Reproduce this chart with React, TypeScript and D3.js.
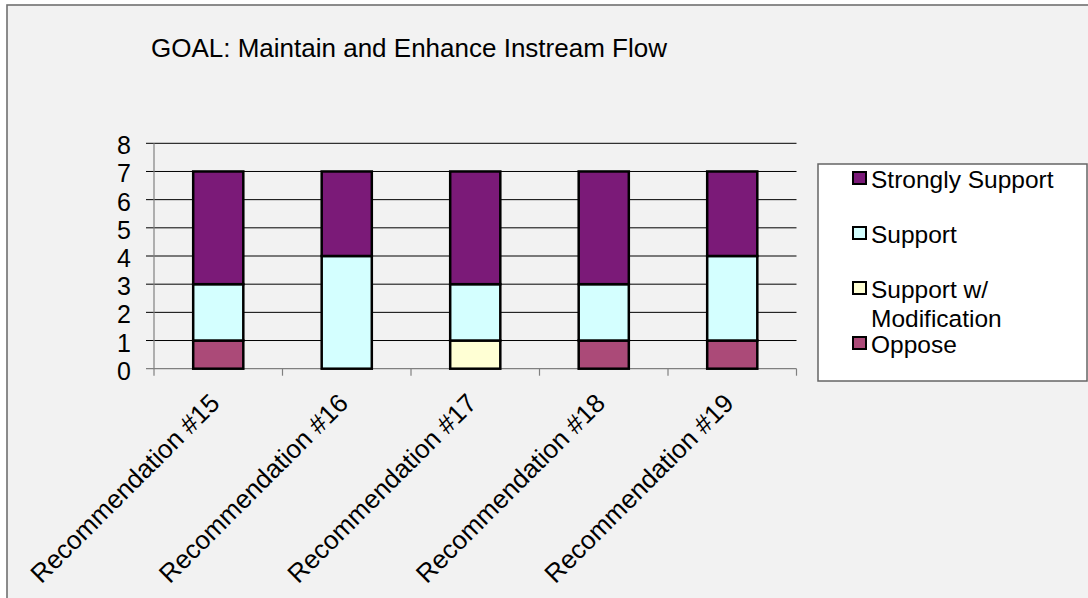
import React from "react";
import * as d3 from "d3";

// chart values
const categories = [
  "Recommendation #15",
  "Recommendation #16",
  "Recommendation #17",
  "Recommendation #18",
  "Recommendation #19",
];
const oppose = [1, 0, 0, 1, 1];
const supportMod = [0, 0, 1, 0, 0];
const support = [2, 4, 2, 2, 3];
const stronglySupport = [4, 3, 4, 4, 3];
const yTicks = [0, 1, 2, 3, 4, 5, 6, 7, 8];

const seriesKeys = ["oppose", "supportMod", "support", "stronglySupport"];
const seriesColors: Record<string, string> = {
  oppose: "#AB4A78",
  supportMod: "#FFFFD4",
  support: "#D4FFFF",
  stronglySupport: "#7B1A78",
};
// legend order (top to bottom), wrapped labels as lines
const legendKeys = ["stronglySupport", "support", "supportMod", "oppose"];
const legendLabels: Record<string, string[]> = {
  stronglySupport: ["Strongly Support"],
  support: ["Support"],
  supportMod: ["Support w/", "Modification"],
  oppose: ["Oppose"],
};

const W = 1088;
const H = 598;
const plot = { left: 154, right: 796.5, top: 143.3, bottom: 368.7 };
const font = "'Liberation Sans', Arial, sans-serif";

const App = () => {
  const rows = categories.map((c, i) => ({
    cat: c,
    oppose: oppose[i],
    supportMod: supportMod[i],
    support: support[i],
    stronglySupport: stronglySupport[i],
  }));

  const x = d3
    .scaleBand<string>()
    .domain(categories)
    .range([plot.left, plot.right])
    .paddingInner(0.61)
    .paddingOuter(0.305);
  const y = d3.scaleLinear().domain([0, 8]).range([plot.bottom, plot.top]);

  const stacked = d3.stack<any>().keys(seriesKeys)(rows);
  const step = x.step();

  // legend rows spaced evenly
  const legendY = d3
    .scalePoint<string>()
    .domain(legendKeys)
    .range([171, 336]);

  return (
    <div style={{ position: "absolute", left: 0, top: 0 }}>
      <svg width={W} height={H} style={{ display: "block", fontFamily: font }}>
        <rect x={0} y={0} width={W} height={H} fill="#ffffff" />
        <rect
          x={7}
          y={5}
          width={W + 20}
          height={H + 20}
          fill="#f2f2f2"
          stroke="#707070"
          strokeWidth={1.6}
        />

        <text x={151} y={57} fontSize={26} fill="#000">
          GOAL: Maintain and Enhance Instream Flow
        </text>

        {/* gridlines */}
        {yTicks
          .filter((t) => t > 0)
          .map((t) => (
            <line
              key={"g" + t}
              x1={plot.left - 8}
              x2={plot.right}
              y1={y(t)}
              y2={y(t)}
              stroke="#000"
              strokeWidth={1}
            />
          ))}

        {/* axes */}
        <line
          x1={plot.left}
          x2={plot.left}
          y1={plot.top}
          y2={plot.bottom + 7}
          stroke="#808080"
          strokeWidth={1.2}
        />
        <line
          x1={plot.left - 8}
          x2={plot.right}
          y1={y(0)}
          y2={y(0)}
          stroke="#808080"
          strokeWidth={1.2}
        />
        {categories.map((c, i) => (
          <line
            key={"xt" + i}
            x1={plot.left + step * (i + 1)}
            x2={plot.left + step * (i + 1)}
            y1={plot.bottom}
            y2={plot.bottom + 7}
            stroke="#808080"
            strokeWidth={1.2}
          />
        ))}
        {yTicks.map((t) => (
          <text
            key={"yl" + t}
            x={131}
            y={y(t) + 11}
            fontSize={25}
            textAnchor="end"
            fill="#000"
          >
            {t}
          </text>
        ))}

        {/* bars */}
        {stacked.map((s) => (
          <g key={s.key}>
            {s.map((d, i) =>
              d[1] - d[0] > 0 ? (
                <rect
                  key={i}
                  x={x(categories[i])}
                  y={y(d[1])}
                  width={x.bandwidth()}
                  height={y(d[0]) - y(d[1])}
                  fill={seriesColors[s.key]}
                  stroke="#000"
                  strokeWidth={2.5}
                />
              ) : null
            )}
          </g>
        ))}

        {/* category labels */}
        {categories.map((c) => {
          const cx = (x(c) as number) + x.bandwidth() / 2;
          return (
            <text
              key={c}
              transform={`translate(${cx + 3},${plot.bottom + 36}) rotate(-45)`}
              fontSize={26}
              textAnchor="end"
              fill="#000"
            >
              {c}
            </text>
          );
        })}

        {/* legend */}
        <rect
          x={818}
          y={164}
          width={269}
          height={217}
          fill="#ffffff"
          stroke="#666"
          strokeWidth={1.5}
        />
        {legendKeys.map((k) => {
          const ty = legendY(k) as number;
          return (
            <g key={k}>
              <rect
                x={853}
                y={ty + 1}
                width={13}
                height={12}
                fill={seriesColors[k]}
                stroke="#000"
                strokeWidth={2}
              />
              <text x={871} y={ty + 16.5} fontSize={24.5} fill="#000">
                {legendLabels[k].map((ln, j) => (
                  <tspan key={j} x={871} dy={j === 0 ? 0 : 29}>
                    {ln}
                  </tspan>
                ))}
              </text>
            </g>
          );
        })}
      </svg>
    </div>
  );
};

export default App;
